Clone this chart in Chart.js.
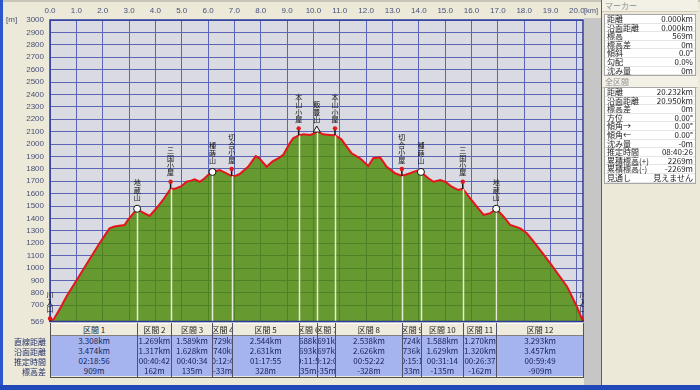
<!DOCTYPE html>
<html>
<head>
<meta charset="utf-8">
<script src="https://cdn.jsdelivr.net/npm/chart.js@4.4.0/dist/chart.umd.min.js"></script>
<style>
html, body { margin: 0; padding: 0; }
body { width: 700px; height: 390px; position: relative; overflow: hidden; background: #ece9d8;
       font-family: "Noto Sans CJK JP", "DejaVu Sans", sans-serif; font-size: 8px; color: #1c1c1c; }
#wrap { position: absolute; left: 0; top: 0; width: 590px; height: 330px; }
.abs { position: absolute; }
#topband { left: 0; top: 0; width: 700px; height: 2px; background: #c9c5b8; }
#leftedge { left: 0; top: 0; width: 3px; height: 390px; background: #2c56cc; }
#bottomedge { left: 0; top: 385px; width: 700px; height: 5px; background: #2148b8; }
#strip { left: 584px; top: 18px; width: 17px; height: 367px; background: #c6c6c6; }
#munit { left: 6px; top: 15px; color: #46507a; font: 8px "Liberation Sans", sans-serif; }
#kmunit { left: 584px; top: 6px; color: #46507a; font: 7.5px "Liberation Sans", sans-serif; }
#sect { left: 50px; top: 323px; width: 533px; height: 54px; border-left: 1px solid #505050; border-bottom: 1px solid #505050; }
.col { position: absolute; top: 0; height: 54px; box-sizing: border-box; border-right: 1px solid #50506a; }
.hd { height: 13px; background: #efebdc; border-top: 1px solid #fff; border-bottom: 1px solid #808080; box-sizing: border-box;
      display: flex; justify-content: center; align-items: center; overflow: hidden; white-space: nowrap; color: #222; }
.bd { height: 10px; background: #a5b4ee; display: flex; justify-content: center; align-items: center;
      overflow: hidden; white-space: nowrap; color: #1a2460; line-height: 10px; }
.rl { position: absolute; left: 0; width: 46px; height: 10px; line-height: 10px; text-align: right; color: #24306a; }
#panel { left: 601px; top: 0; width: 96px; height: 385px; border-left: 1px solid #606060; background: #ece9d8; }
.ph { position: absolute; left: 0; width: 96px; height: 12px; line-height: 12px; padding-left: 3px; box-sizing: border-box;
      color: #8c8c8c; background: #f3f1e6; border-bottom: 1px solid #d0ccbc; }
.box { position: absolute; left: 2px; width: 92px; background: #fff; border: 1px solid #a8a8a8; box-sizing: border-box; }
.row { height: 8.6px; line-height: 8.6px; position: relative; border-bottom: 1px solid #e6e6e6; box-sizing: border-box; }
.row .k { position: absolute; left: 2px; }
.row .v { position: absolute; right: 2px; }
</style>
</head>
<body>
<div id="wrap"><canvas id="profileChart"></canvas></div>
<div class="abs" id="topband"></div>
<div class="abs" id="strip"></div>
<div class="abs" id="munit">[m]</div>
<div class="abs" id="kmunit">[km]</div>
<div class="abs" id="sect"></div>
<div class="abs" id="rowlabels" style="left:0;top:337px;width:50px;height:40px;"></div>
<div class="abs" id="panel"></div>
<div class="abs" id="leftedge"></div>
<div class="abs" id="bottomedge"></div>
<script>
// elevation profile
const distKm = [0, 0.15, 0.42, 0.62, 1.25, 1.88, 2.26, 2.45, 2.83, 2.96, 3.308, 3.50, 3.78, 4.04, 4.29, 4.577,
    4.75, 4.99, 5.18, 5.35, 5.49, 5.68, 5.85, 6.00, 6.166, 6.44, 6.70, 6.895, 7.05, 7.20, 7.52, 7.81, 7.95,
    8.22, 8.45, 8.66, 8.85, 9.10, 9.23, 9.439, 9.62, 9.88, 10.05, 10.127, 10.36, 10.62, 10.818, 11.05, 11.45,
    11.77, 12.08, 12.27, 12.53, 12.78, 13.10, 13.356, 13.67, 13.92, 14.080, 14.36, 14.56, 14.81, 15.00, 15.25,
    15.50, 15.668, 15.95, 16.20, 16.46, 16.71, 16.938, 17.22, 17.47, 17.85, 18.10, 18.36, 18.99, 19.63, 20.00,
    20.15, 20.231];
const elevM = [569, 590, 688, 769, 984, 1200, 1320, 1335, 1347, 1388, 1478, 1450, 1420, 1482, 1549, 1640,
    1640, 1660, 1696, 1705, 1716, 1696, 1720, 1750, 1775, 1791, 1764, 1742, 1745, 1758, 1817, 1903, 1885,
    1817, 1860, 1885, 1912, 2006, 2046, 2070, 2078, 2073, 2087, 2105, 2078, 2073, 2070, 2040, 1925,
    1885, 1823, 1885, 1893, 1817, 1764, 1742, 1764, 1785, 1775, 1724, 1696, 1710, 1696, 1656,
    1629, 1640, 1562, 1495, 1428, 1442, 1478, 1414, 1347, 1320, 1280, 1213, 1038, 850, 688,
    610, 569];

const xTicks = [0, 1, 2, 3, 4, 5, 6, 7, 8, 9, 10, 11, 12, 13, 14, 15, 16, 17, 18, 19, 20];
const yTicks = [569, 700, 800, 900, 1000, 1100, 1200, 1300, 1400, 1500, 1600, 1700, 1800, 1900, 2000,
    2100, 2200, 2300, 2400, 2500, 2600, 2700, 2800, 2900, 3000];

// waypoints and sections
const wpNames = ['川入口', '地蔵山', '三国小屋', '種蒔山', '切合小屋', '本山小屋', '飯豊山', '本山小屋',
    '切合小屋', '種蒔山', '三国小屋', '地蔵山', '川入口'];
const wpKinds = ['gate', 'peak', 'hut', 'peak', 'hut', 'hut', 'summit', 'hut', 'hut', 'peak', 'hut', 'peak', 'gate'];
const startElev = 569;
const sectionStraightKm = [3.308, 1.269, 1.589, 0.729, 2.544, 0.688, 0.691, 2.538, 0.724, 1.588, 1.270, 3.293];
const sectionSurfaceKm = [3.474, 1.317, 1.628, 0.740, 2.631, 0.693, 0.697, 2.626, 0.736, 1.629, 1.320, 3.457];
const sectionTime = ['02:18:56', '00:40:42', '00:40:34', '00:12:48', '01:17:55', '00:11:58', '00:12:06',
    '00:52:22', '00:15:13', '00:31:14', '00:26:37', '00:59:49'];
const sectionElevDiff = [909, 162, 135, -33, 328, 35, -35, -328, 33, -135, -162, -909];
const rowNames = ['直線距離', '沿面距離', '推定時間', '標高差'];

// side panel
const markerKeys = ['距離', '沿面距離', '標高', '標高差', '傾斜', '勾配', '沈み量'];
const markerVals = ['0.000km', '0.000km', '569m', '0m', '0.0°', '0.0%', '0m'];
const totalKeys = ['距離', '沿面距離', '標高差', '方位', '傾角→', '傾角←', '沈み量', '推定時間', '累積標高(+)', '累積標高(-)', '見通し'];
const totalVals = ['20.232km', '20.950km', '0m', '0.00°', '0.00°', '0.00°', '-0m', '08:40:26', '2269m', '-2269m', '見えません'];

const wpKm = [0];
const wpElev = [startElev];
sectionStraightKm.forEach((d, i) => {
    wpKm.push(+(wpKm[i] + d).toFixed(3));
    wpElev.push(wpElev[i] + sectionElevDiff[i]);
});

const tickFont = { size: 8, family: '"Liberation Sans", sans-serif' };
const tickColor = '#46507a';
const gridColor = '#5b65b6';

const profileMarks = {
    id: 'profileMarks',
    beforeDraw(chart) {
        const a = chart.chartArea, ctx = chart.ctx;
        ctx.save();
        ctx.fillStyle = '#dadae2';
        ctx.fillRect(a.left, a.top, a.right - a.left, a.bottom - a.top);
        ctx.restore();
    },
    afterDatasetsDraw(chart) {
        const { ctx, chartArea: a, scales: { x, y } } = chart;
        ctx.save();
        // section lines
        wpKm.forEach((km, i) => {
            if (i === 0 || i === wpKm.length - 1) return;
            const px = Math.round(x.getPixelForValue(km)) + 0.5;
            const py = y.getPixelForValue(wpElev[i]);
            ctx.strokeStyle = 'rgba(238,238,222,0.95)';
            ctx.lineWidth = 1.5;
            ctx.beginPath();
            ctx.moveTo(px, py);
            ctx.lineTo(px, a.bottom);
            ctx.stroke();
        });
        ctx.strokeStyle = '#2b3a9c';
        ctx.lineWidth = 1.5;
        ctx.strokeRect(a.left, a.top, a.right - a.left, a.bottom - a.top);

        wpKm.forEach((km, i) => {
            const px = x.getPixelForValue(km);
            const py = y.getPixelForValue(wpElev[i]);
            const kind = wpKinds[i];
            let top;
            ctx.lineWidth = 1;
            if (kind === 'peak') {
                ctx.beginPath();
                ctx.arc(px, py, 3.5, 0, Math.PI * 2);
                ctx.fillStyle = '#fff';
                ctx.fill();
                ctx.strokeStyle = '#111';
                ctx.stroke();
                top = py - 11.5;
            } else if (kind === 'summit') {
                ctx.beginPath();
                ctx.moveTo(px, py - 5);
                ctx.lineTo(px + 3.5, py + 1);
                ctx.lineTo(px - 3.5, py + 1);
                ctx.closePath();
                ctx.fillStyle = '#fff';
                ctx.fill();
                ctx.strokeStyle = '#111';
                ctx.stroke();
                top = py - 11.5;
            } else {
                const len = kind === 'gate' ? 3 : 7;
                ctx.strokeStyle = '#111';
                ctx.lineWidth = 1.5;
                ctx.beginPath();
                ctx.moveTo(px, py);
                ctx.lineTo(px, py - len);
                ctx.stroke();
                ctx.beginPath();
                ctx.arc(px, py - len, 2.2, 0, Math.PI * 2);
                ctx.fillStyle = '#e01818';
                ctx.fill();
                top = py - len - 9;
            }
            const chars = [...wpNames[i]];
            ctx.fillStyle = '#111';
            ctx.font = '7px "Noto Sans CJK JP"';
            ctx.textAlign = 'center';
            ctx.textBaseline = 'middle';
            chars.forEach((c, k) => ctx.fillText(c, px, top - (chars.length - 1 - k) * 7.4));
        });
        ctx.restore();
    }
};

const chart = new Chart(document.getElementById('profileChart').getContext('2d'), {
    type: 'line',
    data: {
        datasets: [{
            data: distKm.map((d, i) => ({ x: d, y: elevM[i] })),
            borderColor: '#e5151a',
            borderWidth: 2,
            backgroundColor: 'rgba(72,136,2,0.8)',
            fill: 'start',
            pointRadius: 0,
            tension: 0
        }]
    },
    options: {
        responsive: true,
        maintainAspectRatio: false,
        animation: false,
        layout: { padding: { left: 0, right: 7, top: 0, bottom: 8.5 } },
        plugins: { legend: { display: false }, tooltip: { enabled: false } },
        scales: {
            x: {
                type: 'linear', position: 'top', min: 0, max: 20.232,
                afterBuildTicks: s => { s.ticks = xTicks.map(v => ({ value: v })); },
                afterFit: s => { s.height = 20; s.paddingLeft = 0; s.paddingRight = 0; },
                ticks: { padding: 4, color: tickColor, font: tickFont, autoSkip: false, maxRotation: 0,
                         callback: v => Number(v).toFixed(1) },
                grid: { color: gridColor, lineWidth: 1, drawTicks: false },
                border: { display: false }
            },
            y: {
                min: 569, max: 3000,
                afterBuildTicks: s => { s.ticks = yTicks.map(v => ({ value: v })); },
                afterFit: s => { s.width = 50; s.paddingTop = 0; s.paddingBottom = 0; },
                ticks: { padding: 6, color: tickColor, font: tickFont, autoSkip: false,
                         callback: v => String(v) },
                grid: { color: gridColor, lineWidth: 1, drawTicks: false },
                border: { display: false }
            }
        }
    },
    plugins: [profileMarks]
});

// section table under the plot
const sect = document.getElementById('sect');
const xs = chart.scales.x;
const left0 = xs.getPixelForValue(0);
sectionStraightKm.forEach((d, i) => {
    const x0 = xs.getPixelForValue(wpKm[i]) - left0;
    const x1 = xs.getPixelForValue(wpKm[i + 1]) - left0;
    const col = document.createElement('div');
    col.className = 'col';
    col.style.left = x0 + 'px';
    col.style.width = (x1 - x0) + 'px';
    const cells = ['区間 ' + (i + 1), d.toFixed(3) + 'km', sectionSurfaceKm[i].toFixed(3) + 'km',
        sectionTime[i], sectionElevDiff[i] + 'm'];
    cells.forEach((t, k) => {
        const c = document.createElement('div');
        c.className = k === 0 ? 'hd' : 'bd';
        c.innerHTML = '<span>' + t + '</span>';
        col.appendChild(c);
    });
    sect.appendChild(col);
});
const rl = document.getElementById('rowlabels');
rowNames.forEach((n, k) => {
    const d = document.createElement('div');
    d.className = 'rl';
    d.style.top = (k * 10) + 'px';
    d.textContent = n;
    rl.appendChild(d);
});

// side panel
const panel = document.getElementById('panel');
function addHeader(text, top) {
    const h = document.createElement('div');
    h.className = 'ph';
    h.style.top = top + 'px';
    h.textContent = text;
    panel.appendChild(h);
}
function addBox(keys, vals, top) {
    const b = document.createElement('div');
    b.className = 'box';
    b.style.top = top + 'px';
    keys.forEach((k, i) => {
        const r = document.createElement('div');
        r.className = 'row';
        r.innerHTML = '<span class="k">' + k + '</span><span class="v">' + vals[i] + '</span>';
        b.appendChild(r);
    });
    panel.appendChild(b);
}
addHeader('マーカー', 0);
addBox(markerKeys, markerVals, 14);
addHeader('全区間', 76);
addBox(totalKeys, totalVals, 87);
</script>
</body>
</html>
